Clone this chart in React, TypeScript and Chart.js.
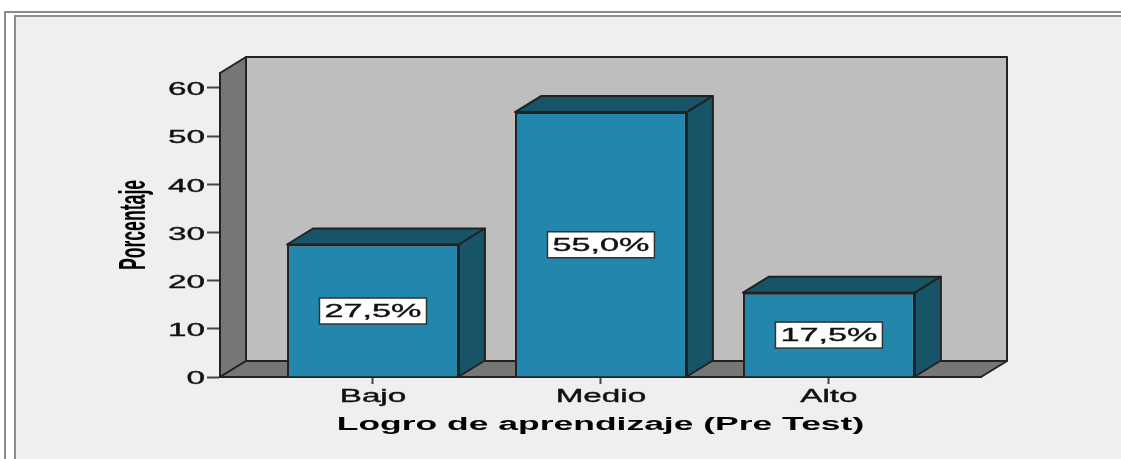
import React, { useEffect, useRef } from "react";
import { Chart, registerables } from "chart.js";

Chart.register(...registerables);

const categories = ["Bajo", "Medio", "Alto"];
const percentages = [27.5, 55.0, 17.5];
const percentLabels = ["27,5%", "55,0%", "17,5%"];
const xTitle = "Logro de aprendizaje (Pre Test)";
const yTitle = "Porcentaje";

const DEPTH_X = 26;
const DEPTH_Y = 16;
const FRONT = "#2387ad";
const SHADE = "#175467";
const WALL = "#bebebe";
const SIDE = "#767676";
const EDGE = "#222222";
const TEXT = "#111111";
const FONT = "'Liberation Sans', Arial, sans-serif";

function poly(ctx: CanvasRenderingContext2D, pts: number[][], fill: string) {
  ctx.beginPath();
  pts.forEach((p, i) => (i ? ctx.lineTo(p[0], p[1]) : ctx.moveTo(p[0], p[1])));
  ctx.closePath();
  ctx.fillStyle = fill;
  ctx.fill();
  ctx.lineWidth = 2;
  ctx.strokeStyle = EDGE;
  ctx.lineJoin = "round";
  ctx.stroke();
}

// The reference text is a horizontally stretched image: stretch glyphs along their baseline.
const stretchText = {
  id: "stretchText",
  beforeInit(chart: any) {
    const ctx = chart.ctx;
    const orig = ctx.fillText.bind(ctx);
    ctx.fillText = (t: string, x: number, y: number, m?: number) => {
      const rotated = Math.abs(ctx.getTransform().b) > 0.01;
      const bold = ctx.font.includes("bold");
      const k = rotated ? 0.49 : bold ? 1.97 : 1.9;
      ctx.save();
      ctx.translate(x, y + (!rotated && !bold ? 2.5 : 0));
      ctx.scale(k, 1);
      if (m === undefined) orig(t, 0, 0);
      else orig(t, 0, 0, m);
      if (!rotated && !bold) {
        ctx.lineWidth = 0.35;
        ctx.strokeStyle = ctx.fillStyle;
        ctx.strokeText(t, 0, 0);
      }
      ctx.restore();
    };
  },
};

const box3d = {
  id: "box3d",
  beforeDraw(chart: any) {
    const { ctx, chartArea: a } = chart;
    const { left: l, right: r, top: t, bottom: b } = a;
    const dx = DEPTH_X;
    const dy = DEPTH_Y;
    ctx.save();
    poly(ctx, [[l + dx, t - dy], [r + dx, t - dy], [r + dx, b - dy], [l + dx, b - dy]], WALL);
    poly(ctx, [[l, t], [l + dx, t - dy], [l + dx, b - dy], [l, b]], SIDE);
    poly(ctx, [[l, b], [l + dx, b - dy], [r + dx, b - dy], [r, b]], SIDE);
    ctx.restore();
  },
  beforeDatasetsDraw(chart: any) {
    const { ctx } = chart;
    const dx = DEPTH_X;
    const dy = DEPTH_Y;
    ctx.save();
    chart.getDatasetMeta(0).data.forEach((bar: any) => {
      const { x, y, base, width } = bar.getProps(["x", "y", "base", "width"], true);
      const l = x - width / 2;
      const r = x + width / 2;
      poly(ctx, [[l, y], [l + dx, y - dy], [r + dx, y - dy], [r, y]], SHADE);
      poly(ctx, [[r, y], [r + dx, y - dy], [r + dx, base - dy], [r, base]], SHADE);
    });
    ctx.restore();
  },
  afterDatasetsDraw(chart: any) {
    const { ctx } = chart;
    ctx.save();
    chart.getDatasetMeta(0).data.forEach((bar: any, i: number) => {
      const { x, y, base } = bar.getProps(["x", "y", "base"], true);
      const cy = (y + base) / 2;
      ctx.fillStyle = "#ffffff";
      ctx.strokeStyle = "#333333";
      ctx.lineWidth = 1.5;
      ctx.fillRect(x - 53.5, cy - 12.5, 107, 26);
      ctx.strokeRect(x - 53.5, cy - 12.5, 107, 26);
      ctx.fillStyle = TEXT;
      ctx.font = `18px ${FONT}`;
      ctx.textAlign = "center";
      ctx.textBaseline = "middle";
      ctx.fillText(percentLabels[i], x, cy - 1);
    });
    ctx.restore();
  },
};

export default function App() {
  const ref = useRef<HTMLCanvasElement>(null);

  useEffect(() => {
    const chart = new Chart(ref.current as HTMLCanvasElement, {
      type: "bar",
      plugins: [stretchText, box3d],
      data: {
        datasets: [
          {
            data: categories.map((_, i) => ({ x: i, y: percentages[i] })),
            backgroundColor: FRONT,
            borderColor: EDGE,
            borderWidth: 2,
            barPercentage: 0.754,
            categoryPercentage: 1,
          },
        ],
      },
      options: {
        responsive: false,
        animation: false,
        events: [],
        layout: { padding: { left: 113, right: 140, top: 73, bottom: 23 } },
        plugins: { legend: { display: false }, tooltip: { enabled: false } },
        scales: {
          x: {
            type: "linear",
            offset: false,
            min: -0.671,
            max: 2.667,
            afterBuildTicks: (s: any) => {
              s.ticks = categories.map((_, i) => ({ value: i }));
            },
            afterFit: (s: any) => {
              s.height = 59;
            },
            ticks: {
              autoSkip: false,
              maxRotation: 0,
              padding: 0,
              color: TEXT,
              font: { family: FONT, size: 17.5 },
              callback: (v: any) => categories[v],
            },
            grid: { offset: false, drawOnChartArea: false, tickLength: 7, tickColor: "#444444", tickWidth: 2 },
            border: { color: EDGE, width: 2 },
            title: {
              display: true,
              text: xTitle,
              color: "#000000",
              font: { family: FONT, size: 18, weight: "bold" },
              padding: 0,
            },
          },
          y: {
            min: 0,
            max: 63.1,
            afterFit: (s: any) => {
              s.width = 107;
            },
            ticks: {
              stepSize: 10,
              includeBounds: false,
              padding: 2,
              color: TEXT,
              font: { family: FONT, size: 17.5 },
            },
            grid: { drawOnChartArea: false, tickLength: 13, tickColor: "#444444", tickWidth: 2 },
            border: { color: EDGE, width: 2 },
            title: {
              display: true,
              text: yTitle,
              color: "#000000",
              font: { family: FONT, size: 36, weight: "bold" },
              padding: 0,
            },
          },
        },
      },
    } as any);
    return () => chart.destroy();
  }, []);

  return (
    <div style={{ position: "fixed", left: 0, top: 0, width: 1121, height: 459, background: "#fff", overflow: "hidden" }}>
      <div style={{ position: "absolute", left: 4, top: 11, right: 0, bottom: 0, borderLeft: "2px solid #8c8c8c", borderTop: "2px solid #8c8c8c" }} />
      <div style={{ position: "absolute", left: 14, top: 15, right: 0, bottom: 0, background: "#efefef", borderLeft: "2px solid #8c8c8c", borderTop: "2px solid #8c8c8c" }} />
      <canvas ref={ref} width={1121} height={459} style={{ position: "absolute", left: 0, top: 0, display: "block", filter: "blur(0.35px)" }} />
    </div>
  );
}
